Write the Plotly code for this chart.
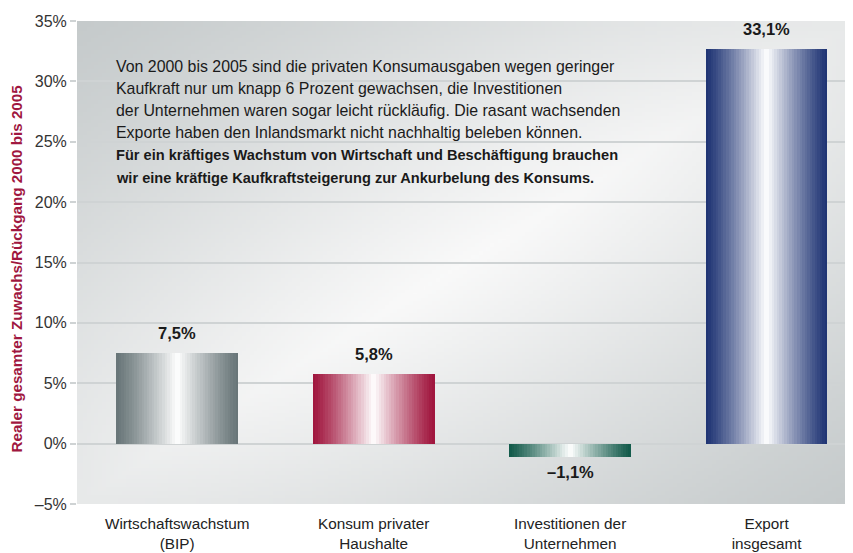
import base64
import struct
import zlib

import plotly.graph_objects as go

# ---------------- data ----------------
categories = [
    "Wirtschaftswachstum<br>(BIP)",
    "Konsum privater<br>Haushalte",
    "Investitionen der<br>Unternehmen",
    "Export<br>insgesamt",
]
values = [7.5, 5.8, -1.1, 32.7]
value_labels = ["7,5%", "5,8%", "–1,1%", "33,1%"]
tick_values = [-5, 0, 5, 10, 15, 20, 25, 30, 35]
tick_labels = ["–5%", "0%", "5%", "10%", "15%", "20%", "25%", "30%", "35%"]
y_title = "Realer gesamter Zuwachs/Rückgang 2000 bis 2005"
text_lines = [
    "Von 2000 bis 2005 sind die privaten Konsumausgaben wegen geringer",
    "Kaufkraft nur um knapp 6 Prozent gewachsen, die Investitionen",
    "der Unternehmen waren sogar leicht rückläufig. Die rasant wachsenden",
    "Exporte haben den Inlandsmarkt nicht nachhaltig beleben können.",
]
bold_lines = [
    "Für ein kräftiges Wachstum von Wirtschaft und Beschäftigung brauchen",
    "wir eine kräftige Kaufkraftsteigerung zur Ankurbelung des Konsums.",
]

# ---------------- styles ----------------
edge_colors = [(104, 117, 120), (160, 21, 61), (18, 90, 74), (30, 51, 115)]
WHITE = (255, 255, 255)
FONT = "Liberation Sans, Arial, sans-serif"


def lerp(a, b, f):
    return tuple(int(round(a[i] + (b[i] - a[i]) * f)) for i in range(3))


def rgb(c):
    return f"rgb({c[0]},{c[1]},{c[2]})"


# background gradient image (style only)
def make_bg_png(W=200, H=125):
    dark = (197, 202, 203)
    light = (249, 249, 249)
    raw = bytearray()
    for j in range(H):
        raw.append(0)
        fy = j / (H - 1)
        for i in range(W):
            fx = i / (W - 1)
            u = (fx + fy) / 2
            g = 1 - abs(2 * u - 1)
            r2 = ((fx - 0.5) ** 2 + (fy - 0.5) ** 2) / 0.5
            g *= 1 - 0.35 * r2
            c = lerp(dark, light, max(0.0, min(1.0, g)))
            raw.extend(c)

    def chunk(tag, data):
        return (struct.pack(">I", len(data)) + tag + data
                + struct.pack(">I", zlib.crc32(tag + data) & 0xFFFFFFFF))

    png = b"\x89PNG\r\n\x1a\n"
    png += chunk(b"IHDR", struct.pack(">IIBBBBB", W, H, 8, 2, 0, 0, 0))
    png += chunk(b"IDAT", zlib.compress(bytes(raw), 9))
    png += chunk(b"IEND", b"")
    return "data:image/png;base64," + base64.b64encode(png).decode()


fig = go.Figure()

# gradient bars built from thin slices of the same data
N = 48
bw = 0.62
step = bw / N
for k in range(N):
    s = (k + 0.5) / N
    t = 1 - abs(2 * s - 1)
    f = t ** 1.2
    cols = [rgb(lerp(e, WHITE, f)) for e in edge_colors]
    off = -bw / 2 + k * step
    w = min(step * 1.8, bw / 2 - off)
    fig.add_bar(
        x=categories, y=values, width=w, offset=off,
        marker=dict(color=cols, line=dict(width=0)),
        showlegend=False, hoverinfo="skip",
    )

annotations = []
for c, v, lab in zip(categories, values, value_labels):
    annotations.append(dict(
        x=c, y=v, xref="x", yref="y", text=lab, showarrow=False,
        yanchor="bottom" if v >= 0 else "top", yshift=9 if v >= 0 else -4,
        font=dict(family=FONT, size=16.5, color="#1a1a1a", weight="bold"),
    ))

# explanatory text block
line_top = 45.0  # px below plot top for first line center
for i, ln in enumerate(text_lines + bold_lines):
    bold = i >= len(text_lines)
    annotations.append(dict(
        x=0.048, y=1, xref="paper", yref="paper", xanchor="left", yanchor="middle",
        yshift=-(line_top + i * 22.3), text=ln, showarrow=False, align="left",
        font=dict(family=FONT, size=14.6 if bold else 15.9, color="#1a1a1a",
                  weight="bold" if bold else "normal"),
    ))

# y-axis title
annotations.append(dict(
    x=0, y=0.5, xref="paper", yref="paper", xanchor="center", yanchor="middle",
    xshift=-61, yshift=-6,
    text=y_title, textangle=-90, showarrow=False,
    font=dict(family=FONT, size=15.2, color="#a0173f", weight="bold"),
))

fig.update_layout(
    width=845, height=545,
    margin=dict(l=69, r=0, t=12.5, b=49, autoexpand=False),
    paper_bgcolor="white", plot_bgcolor="rgba(0,0,0,0)",
    barmode="overlay", bargap=0,
    showlegend=False,
    font=dict(family=FONT, color="#222"),
    images=[dict(source=make_bg_png(), xref="paper", yref="paper", x=0, y=1,
                 sizex=1, sizey=1, sizing="stretch", xanchor="left", yanchor="top",
                 layer="below")],
    annotations=annotations,
)
fig.update_xaxes(
    type="category", range=[-0.51, 3.44], showgrid=False, zeroline=False,
    showline=False, ticks="", automargin=False, ticklabelstandoff=9,
    tickfont=dict(size=15.3, color="#222"),
)
fig.update_yaxes(
    range=[-5, 35], tickvals=tick_values, ticktext=tick_labels, automargin=False,
    showgrid=True, gridcolor="#cfd3d4", gridwidth=1.6, zeroline=False,
    showline=False, ticks="outside", ticklen=6, tickwidth=1.6, tickcolor="#cfd3d4",
    tickfont=dict(size=16, color="#333"),
)

fig.write_html("out.html")
